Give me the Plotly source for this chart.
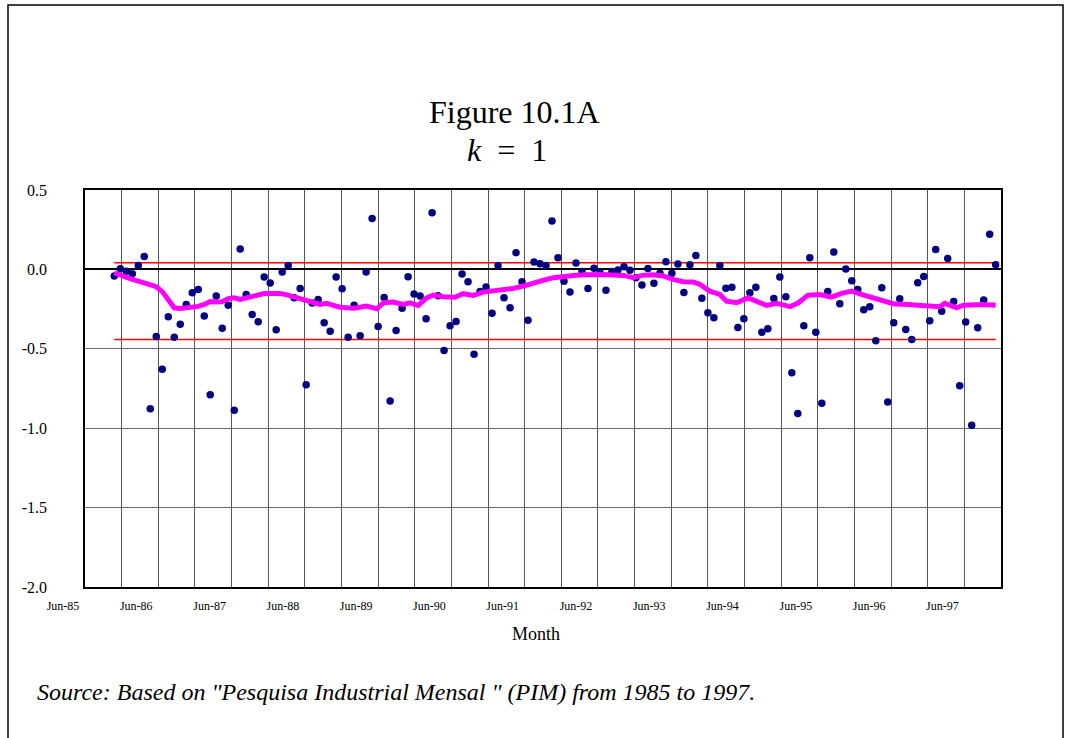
import plotly.graph_objects as go

# ---------------- data ----------------
# residuals, one per monthly observation (observation index 0..147)
residuals = [
    -0.042, 0.004, -0.011, -0.027, 0.025, 0.082, -0.878, -0.422, -0.628, -0.298,
    -0.427, -0.345, -0.221, -0.147, -0.126, -0.294, -0.790, -0.168, -0.370, -0.225,
    -0.887, 0.128, -0.158, -0.284, -0.330, -0.048, -0.086, -0.380, -0.017, 0.025,
    -0.179, -0.120, -0.727, -0.212, -0.189, -0.336, -0.389, -0.048, -0.122, -0.427,
    -0.225, -0.418, -0.017, 0.320, -0.360, -0.177, -0.828, -0.385, -0.244, -0.046,
    -0.155, -0.167, -0.311, 0.357, -0.166, -0.511, -0.355, -0.328, -0.029, -0.078,
    -0.534, -0.139, -0.111, -0.276, 0.025, -0.179, -0.242, 0.105, -0.077, -0.321,
    0.046, 0.035, 0.025, 0.305, 0.074, -0.074, -0.143, 0.040, -0.013, -0.120,
    0.007, -0.020, -0.132, -0.013, -0.004, 0.017, -0.006, -0.053, -0.099, 0.006,
    -0.088, -0.025, 0.048, -0.025, 0.034, -0.145, 0.030, 0.088, -0.181, -0.273,
    -0.305, 0.025, -0.118, -0.113, -0.366, -0.311, -0.147, -0.113, -0.395, -0.374,
    -0.183, -0.048, -0.172, -0.651, -0.908, -0.355, 0.074, -0.395, -0.843, -0.139,
    0.109, -0.216, 0.002, -0.071, -0.126, -0.254, -0.235, -0.450, -0.116, -0.835,
    -0.336, -0.185, -0.378, -0.441, -0.084, -0.044, -0.324, 0.126, -0.263, 0.069,
    -0.202, -0.733, -0.332, -0.982, -0.368, -0.193, 0.221, 0.030,
]
obs_index = list(range(len(residuals)))

# moving average (magenta), read at observation positions
ma_pos = [0, 1, 2, 3, 4, 5, 7, 8, 9, 10, 11, 12, 13, 14, 15, 16, 17, 18, 19, 20,
          21, 22, 23, 24, 25, 26.5, 27.6, 28.8, 29.9, 31, 32, 33.2, 34.3, 35.4, 36.5,
          37.6, 38.8, 39.9, 41, 42, 43.8, 44.9, 46.5, 48.2, 49.3, 50.7, 52.1, 53.2,
          54.9, 56.8, 58.2, 59.9, 61.5, 63.2, 64.9, 66.5, 68.2, 69.9, 71.5, 73.2,
          74.9, 76.6, 78.2, 79.9, 81.6, 83.2, 84.9, 86.6, 88.2, 89.9, 91.6, 93.2,
          94.9, 96.6, 97.7, 99.3, 101, 102.1, 103.8, 105.7, 107.4, 108.8, 110.5,
          112.7, 114.1, 115.7, 117.7, 119.6, 121.3, 123, 124.6, 126.6, 128.2, 129.9,
          132.2, 134.4, 136.6, 137.7, 138.5, 140.5, 141.6, 143.3, 144.9, 147]
ma_val = [-0.022, -0.038, -0.052, -0.063, -0.074, -0.084, -0.109, -0.140, -0.191, -0.242,
          -0.246, -0.242, -0.238, -0.233, -0.221, -0.202, -0.205, -0.203, -0.185, -0.179,
          -0.189, -0.179, -0.168, -0.158, -0.152, -0.151, -0.151, -0.160, -0.172, -0.181,
          -0.189, -0.204, -0.221, -0.214, -0.227, -0.238, -0.242, -0.244, -0.238, -0.231,
          -0.248, -0.210, -0.206, -0.221, -0.210, -0.227, -0.179, -0.162, -0.172, -0.175,
          -0.153, -0.164, -0.143, -0.137, -0.126, -0.120, -0.105, -0.090, -0.069, -0.052,
          -0.042, -0.038, -0.034, -0.032, -0.032, -0.036, -0.038, -0.052, -0.036, -0.034,
          -0.042, -0.063, -0.078, -0.080, -0.095, -0.137, -0.158, -0.200, -0.210, -0.179,
          -0.206, -0.227, -0.214, -0.235, -0.210, -0.162, -0.158, -0.175, -0.151, -0.137,
          -0.158, -0.179, -0.200, -0.216, -0.221, -0.227, -0.231, -0.235, -0.214, -0.242,
          -0.225, -0.221, -0.221, -0.225]

upper_limit = 0.042
lower_limit = -0.441

x_labels = ["Jun-85", "Jun-86", "Jun-87", "Jun-88", "Jun-89", "Jun-90", "Jun-91",
            "Jun-92", "Jun-93", "Jun-94", "Jun-95", "Jun-96", "Jun-97"]
y_tickvals = [0.5, 0.0, -0.5, -1.0, -1.5, -2.0]
y_ticktext = ["0.5", "0.0", "-0.5", "-1.0", "-1.5", "-2.0"]

# ---------------- axis geometry ----------------
x_left = -4.887          # left edge of plot area, in observation units
grid_step = 6.111        # half-year gridline spacing, in observation units
n_grid = 26
grid_vals = [x_left + k * grid_step for k in range(n_grid)]
grid_text = [x_labels[k // 2] if (k % 2 == 0 and k // 2 < len(x_labels)) else "" for k in range(n_grid)]

FONT = "Liberation Serif"

fig = go.Figure()

# limit lines
first_obs, last_obs = obs_index[0], obs_index[-1]
for lim in (upper_limit, lower_limit):
    fig.add_trace(go.Scatter(x=[first_obs, last_obs], y=[lim, lim], mode="lines",
                             line=dict(color="#FF0000", width=1.6),
                             hoverinfo="skip", showlegend=False))

# residual dots
fig.add_trace(go.Scatter(x=obs_index, y=residuals, mode="markers",
                         marker=dict(color="#000080", size=7.5, line=dict(width=0)),
                         showlegend=False))

# moving average
fig.add_trace(go.Scatter(x=ma_pos, y=ma_val, mode="lines",
                         line=dict(color="#FF00FF", width=5),
                         showlegend=False))

fig.update_layout(
    width=1071, height=738,
    margin=dict(l=85, r=70, t=190, b=151),
    paper_bgcolor="white", plot_bgcolor="white",
    font=dict(family=FONT, color="black"),
    showlegend=False,
    xaxis=dict(
        range=[x_left, x_left + 25 * grid_step],
        tickmode="array", tickvals=grid_vals, ticktext=grid_text,
        showgrid=True, gridcolor="#555555", gridwidth=1,
        zeroline=False, ticks="",
        showline=True, mirror=True, linecolor="black", linewidth=1.5,
        tickfont=dict(family=FONT, size=12, color="black"),
        ticklabelshift=-22, ticklabelstandoff=7,
    ),
    yaxis=dict(
        range=[-2.0, 0.5],
        tickmode="array", tickvals=y_tickvals, ticktext=y_ticktext,
        showgrid=True, gridcolor="#666666", gridwidth=1,
        zeroline=True, zerolinecolor="black", zerolinewidth=1.5,
        ticks="", showline=True, mirror=True, linecolor="black", linewidth=1.5,
        tickfont=dict(family=FONT, size=16, color="black"),
        ticklabelstandoff=33,
    ),
)

# outer frame
fig.add_shape(type="rect", xref="paper", yref="paper",
              x0=(8 - 85) / 916, x1=(1063 - 85) / 916,
              y0=(587 - 760) / 397, y1=(587 - 5) / 397,
              line=dict(color="black", width=1.5), fillcolor="rgba(0,0,0,0)", layer="below")

def ann(text, px, py, size, xanchor="center", italic=False):
    fig.add_annotation(text=text, xref="paper", yref="paper",
                       x=(px - 85) / 916, y=(587 - py) / 397,
                       xanchor=xanchor, yanchor="middle", showarrow=False,
                       font=dict(family=FONT, size=size, color="black",
                                 style="italic" if italic else "normal"))

ann("Figure 10.1A", 514, 112, 32)
ann("<i>k</i>\u2002=\u20021", 507, 150, 32)
ann("Month", 536, 634, 18)
ann('Source: Based on "Pesquisa Industrial Mensal " (PIM) from 1985 to 1997.', 35, 692, 24,
    xanchor="left", italic=True)

fig.write_html("out.html", config={"displayModeBar": False},
               post_script="document.body.style.margin='0';document.body.style.overflow='hidden';")
